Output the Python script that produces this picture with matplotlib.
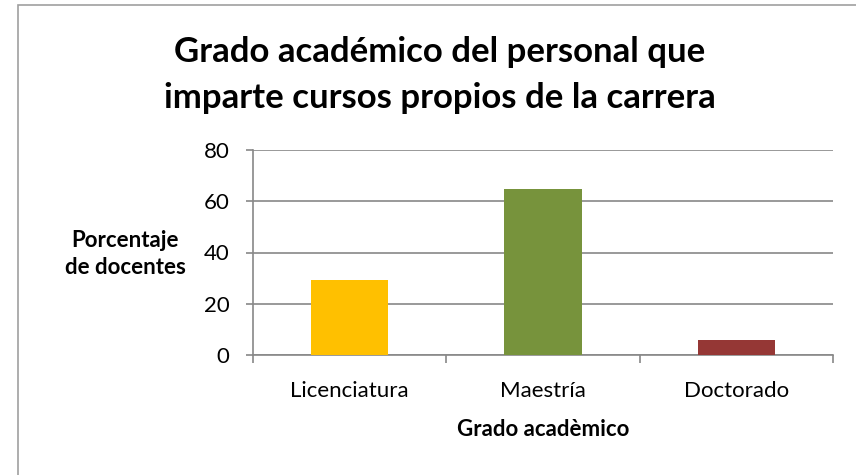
import numpy as np
import matplotlib.pyplot as plt
from matplotlib.patches import Rectangle
from matplotlib.ticker import FixedLocator

# ===================================================================================
# DATA
# ===================================================================================
categories = ["Licenciatura", "Maestría", "Doctorado"]
porcentajes = [29.4, 64.7, 5.9]
bar_colors = ["#FFC000", "#77933C", "#953735"]
y_ticks = [0, 20, 40, 60, 80]

title_text = "Grado académico del personal que\nimparte cursos propios de la carrera"
x_label = "Grado acadèmico"
y_label = "Porcentaje\nde docentes"

# ===================================================================================
# PLOT
# ===================================================================================
plt.rcParams['font.family'] = ['Lato', 'DejaVu Sans']
grid_gray = "#888888"

fig = plt.figure(figsize=(8.56, 4.75), dpi=100)

# outer chart border (cut off at right and bottom like the reference)
fig.patches.append(Rectangle((18/856, -0.1), 1.2, 1 - 5/475 + 0.1, transform=fig.transFigure,
                             fill=False, edgecolor="#A0A0A0", linewidth=1.2))

ax = fig.add_axes([253/856, 1 - 355/475, 580/856, 205/475])

x = np.arange(len(categories))
ax.bar(x, porcentajes, width=0.40, color=bar_colors, zorder=3)

ax.set_xlim(-0.5, len(categories) - 0.5)
ax.set_ylim(0, 80)
ax.set_yticks(y_ticks)
ax.set_xticks(x)
ax.set_xticklabels(categories, fontsize=16)
ax.xaxis.set_minor_locator(FixedLocator(np.arange(-0.5, len(categories), 1.0)))
ax.tick_params(axis='x', which='major', length=0, pad=19)
ax.tick_params(axis='x', which='minor', length=6, color=grid_gray, width=1.2)
ax.tick_params(axis='y', length=5, color=grid_gray, width=1.2, labelsize=16, pad=12)

ax.yaxis.grid(True, color=grid_gray, linewidth=1.2, zorder=0)
for side in ["top", "right"]:
    ax.spines[side].set_visible(False)
for side in ["left", "bottom"]:
    ax.spines[side].set_color(grid_gray)
    ax.spines[side].set_linewidth(1.2)

fig.text(440/856, 1 - 75/475, title_text, ha="center", va="center",
         fontsize=25, fontweight="bold", linespacing=1.5)
fig.text(125/856, 1 - 254/475, y_label, ha="center", va="center",
         fontsize=16, fontweight="bold", linespacing=1.4)
fig.text(543/856, 1 - 430/475, x_label, ha="center", va="center",
         fontsize=16, fontweight="bold")

fig.savefig("out.png", dpi=100)
